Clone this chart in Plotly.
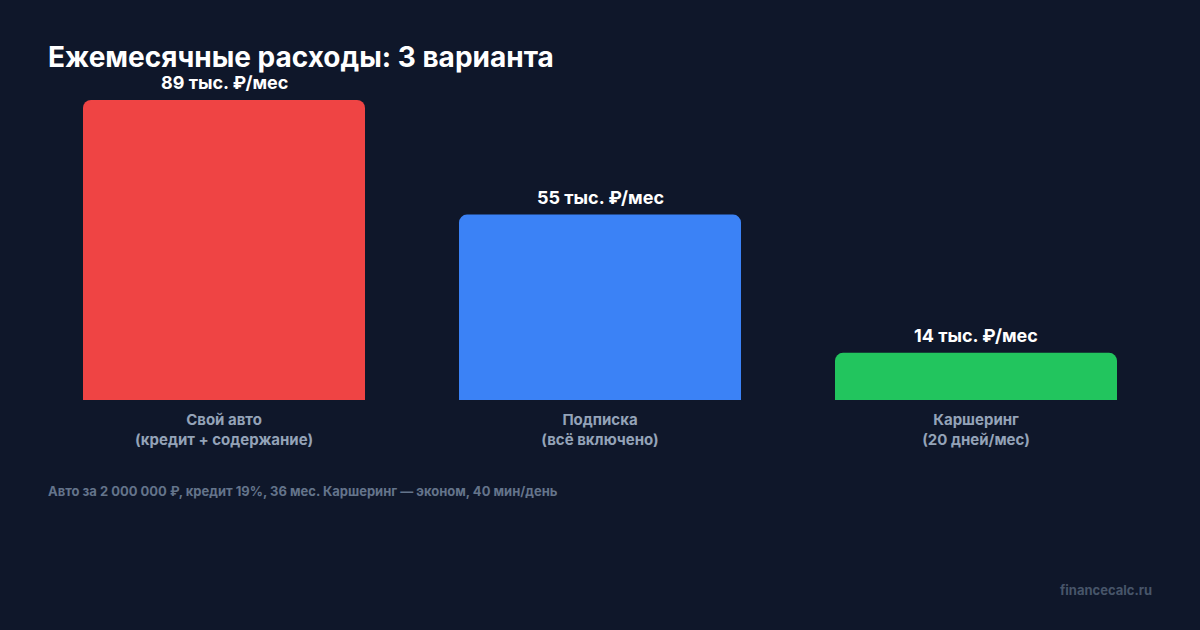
import plotly.graph_objects as go

categories = ["Свой авто<br>(кредит + содержание)", "Подписка<br>(всё включено)", "Каршеринг<br>(20 дней/мес)"]
values = [89, 55, 14]
value_labels = ["89 тыс. ₽/мес", "55 тыс. ₽/мес", "14 тыс. ₽/мес"]
colors = ["#ef4444", "#3b82f6", "#22c55e"]

BG = "#0f172a"
FONT = "Inter"

fig = go.Figure(go.Bar(
    x=categories, y=values,
    marker=dict(color=colors, line=dict(width=0)),
    width=0.75,
    hoverinfo="skip",
))

for c, v, t in zip(categories, values, value_labels):
    fig.add_annotation(x=c, y=v, text=t, showarrow=False, yanchor="bottom", yshift=5,
                       font=dict(family=FONT, size=18, color="#ffffff", weight=700))

fig.add_annotation(xref="paper", yref="paper", x=10/1128, y=-91/300, xanchor="left", yanchor="middle",
                   text="Авто за 2 000 000 ₽, кредит 19%, 36 мес. Каршеринг — эконом, 40 мин/день",
                   showarrow=False, font=dict(family=FONT, size=13, color="#64748b", weight=700))
fig.add_annotation(xref="paper", yref="paper", x=1118/1128, y=-190/300, xanchor="right", yanchor="middle",
                   text="financecalc.ru", showarrow=False,
                   font=dict(family=FONT, size=13, color="#475569", weight=700))

fig.update_layout(
    width=1200, height=630,
    paper_bgcolor=BG, plot_bgcolor=BG,
    margin=dict(l=36, r=36, t=100, b=230),
    barcornerradius=8,
    bargap=0.25,
    showlegend=False,
    title=dict(text="Ежемесячные расходы: 3 варианта", x=48/1200, xanchor="left", xref="container",
               y=1-57/630, yanchor="middle", yref="container",
               font=dict(family=FONT, size=28, color="#ffffff", weight=700)),
    xaxis=dict(showgrid=False, zeroline=False, showline=False, ticks="",
               tickfont=dict(family=FONT, size=15, color="#94a3b8", weight=700),
               ticklabelstandoff=9, fixedrange=True),
    yaxis=dict(range=[0, 89], visible=False, showgrid=False, zeroline=False, fixedrange=True),
)

fig.write_html("out.html", config={"displayModeBar": False, "staticPlot": True},
               post_script="document.body.style.margin='0';document.body.style.background='#0f172a';")
